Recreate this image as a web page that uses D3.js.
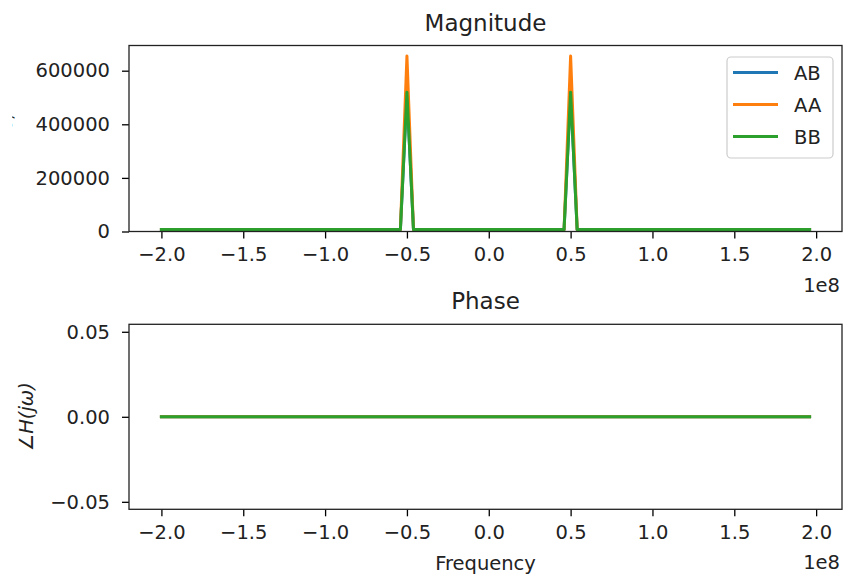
<!DOCTYPE html>
<html><head><meta charset="utf-8">
<script src="https://cdn.jsdelivr.net/npm/d3@7"></script>
<style>
body{margin:0;background:#fff;}
svg{display:block;font-family:"DejaVu Sans",sans-serif;}
</style></head>
<body><svg id="c" width="846" height="579"></svg>
<script>
const freq = [-2e8, -0.54e8, -0.5e8, -0.46e8, 0.46e8, 0.5e8, 0.54e8, 1.96e8];
const magAB = [7000, 7000, 520000, 7000, 7000, 520000, 7000, 7000];
const magAA = [7000, 7000, 655000, 7000, 7000, 655000, 7000, 7000];
const magBB = [7000, 7000, 520000, 7000, 7000, 520000, 7000, 7000];
const phaseFreq = [-2e8, 1.96e8];
const phaseAB = [0, 0];
const phaseAA = [0, 0];
const phaseBB = [0, 0];
const seriesNames = ["AB", "AA", "BB"];
const colors = ["#1f77b4", "#ff7f0e", "#2ca02c"];
const xTicks = [-2e8, -1.5e8, -1e8, -0.5e8, 0, 0.5e8, 1e8, 1.5e8, 2e8];
const xTickLabels = ["−2.0", "−1.5", "−1.0", "−0.5", "0.0", "0.5", "1.0", "1.5", "2.0"];
const magTicks = [0, 200000, 400000, 600000];
const magTickLabels = ["0", "200000", "400000", "600000"];
const phaseTicks = [-0.05, 0, 0.05];
const phaseTickLabels = ["−0.05", "0.00", "0.05"];

const svg = d3.select("#c");
const L = 129, R = 842;
const FS = 19.5;

const x = d3.scaleLinear().domain([-2.198e8, 2.158e8]).range([L, R]);

function panel(top, bottom, yDomain, yT, yTL, fx, ys, title, ylabel, clipLabel) {
  const y = d3.scaleLinear().domain(yDomain).range([bottom, top]);
  const g = svg.append("g");
  const clipId = "clip" + Math.round(top);
  svg.append("clipPath").attr("id", clipId).append("rect")
    .attr("x", L).attr("y", top).attr("width", R - L).attr("height", bottom - top);
  const lines = g.append("g").attr("clip-path", `url(#${clipId})`);
  ys.forEach((vals, i) => {
    const line = d3.line().x((d, j) => x(fx[j])).y(d => y(d));
    lines.append("path").datum(vals).attr("d", line)
      .attr("fill", "none").attr("stroke", colors[i]).attr("stroke-width", 3)
      .attr("stroke-linejoin", "round").attr("stroke-linecap", "square");
  });
  const xa = g.append("g").attr("transform", `translate(0,${bottom})`)
    .call(d3.axisBottom(x).tickValues(xTicks).tickFormat((d, i) => xTickLabels[i]).tickSize(7).tickPadding(9).tickSizeOuter(0));
  const ya = g.append("g").attr("transform", `translate(${L},0)`)
    .call(d3.axisLeft(y).tickValues(yT).tickFormat((d, i) => yTL[i]).tickSize(7).tickPadding(12).tickSizeOuter(0));
  [xa, ya].forEach(a => {
    a.select(".domain").remove();
    a.selectAll("line").attr("stroke", "#000").attr("stroke-width", 1.3);
    a.selectAll("text").attr("font-size", FS).attr("fill", "#222").attr("font-family", "DejaVu Sans");
  });
  g.append("rect").attr("x", L).attr("y", top).attr("width", R - L).attr("height", bottom - top)
    .attr("fill", "none").attr("stroke", "#222").attr("stroke-width", 1.3);
  g.append("text").attr("x", (L + R) / 2).attr("y", top - 15).attr("text-anchor", "middle")
    .attr("font-size", 23).attr("fill", "#222").text(title);
  g.append("text").attr("x", R - 2).attr("y", bottom + 60).attr("text-anchor", "end")
    .attr("font-size", FS).attr("fill", "#222").text("1e8");
  if (clipLabel) {
    svg.append("clipPath").attr("id", "ylc").append("rect").attr("x", 12).attr("y", 0).attr("width", 10).attr("height", 579);
    g.append("text").attr("clip-path", "url(#ylc)")
      .attr("transform", `translate(12,${(top + bottom) / 2}) rotate(-90)`)
      .attr("text-anchor", "middle").attr("font-size", FS).attr("fill", "#222").text(ylabel);
  } else {
    g.append("text").attr("transform", `translate(33,${(top + bottom) / 2}) rotate(-90)`)
      .attr("text-anchor", "middle").attr("font-size", FS).attr("font-style", "italic").attr("fill", "#222").text(ylabel);
  }
  return y;
}

panel(45.5, 231.5, [0, 694000], magTicks, magTickLabels, freq, [magAB, magAA, magBB], "Magnitude", "|H(jω)|", true);
panel(324.3, 509.3, [-0.0544, 0.0544], phaseTicks, phaseTickLabels, phaseFreq, [phaseAB, phaseAA, phaseBB], "Phase", "∠H(jω)", false);

svg.append("text").attr("x", (L + R) / 2).attr("y", 570).attr("text-anchor", "middle")
  .attr("font-size", FS).attr("fill", "#222").text("Frequency");

// legend
const lg = svg.append("g");
lg.append("rect").attr("x", 727).attr("y", 57).attr("width", 106).attr("height", 101)
  .attr("rx", 4).attr("fill", "#fff").attr("fill-opacity", 0.8).attr("stroke", "#ccc").attr("stroke-width", 1.2);
seriesNames.forEach((n, i) => {
  const yy = 72.5 + i * 32;
  lg.append("line").attr("x1", 733).attr("x2", 778).attr("y1", yy).attr("y2", yy)
    .attr("stroke", colors[i]).attr("stroke-width", 3);
  lg.append("text").attr("x", 794).attr("y", yy + 7).attr("font-size", FS).attr("fill", "#222").text(n);
});
</script></body></html>
